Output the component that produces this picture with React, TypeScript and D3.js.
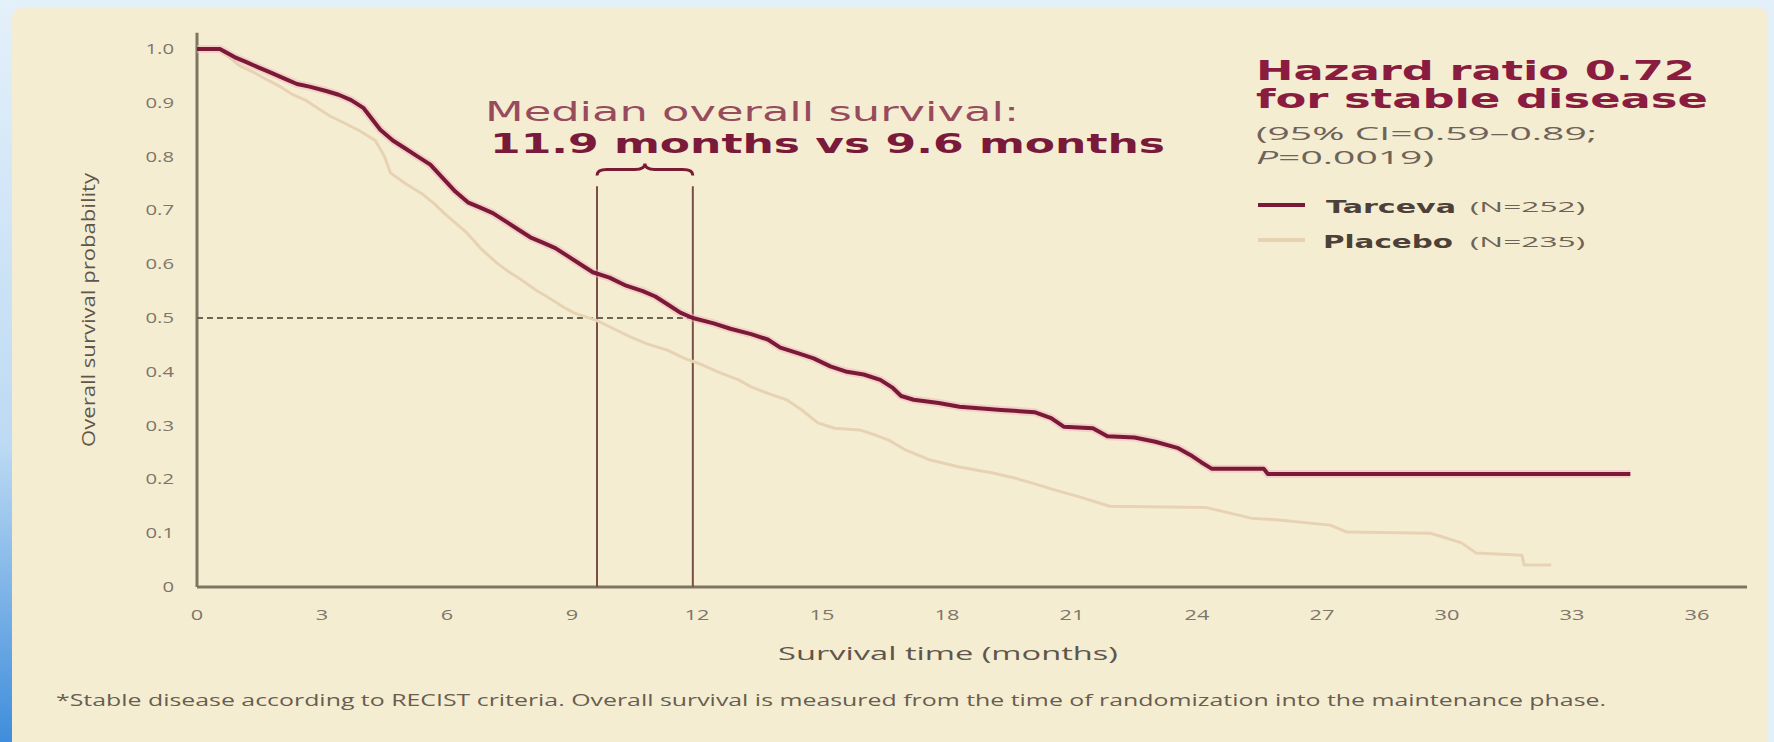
import React from "react";
import * as d3 from "d3";

// ---- data ----
const tarcevaTime = [0, 0.55, 0.9, 1.2, 1.5, 1.8, 2.1, 2.4, 2.7, 3.1, 3.4, 3.7, 4.0, 4.2, 4.4, 4.7, 5.0, 5.3, 5.6, 5.9, 6.2, 6.5, 6.8, 7.1, 7.4, 7.7, 8.0, 8.3, 8.6, 8.9, 9.2, 9.5, 9.9, 10.3, 10.7, 11.0, 11.3, 11.6, 11.9, 12.4, 12.8, 13.3, 13.7, 14.0, 14.4, 14.8, 15.2, 15.6, 16.0, 16.4, 16.7, 16.9, 17.2, 17.8, 18.3, 19.3, 20.1, 20.5, 20.8, 21.5, 21.85, 22.5, 23.0, 23.55, 23.85, 24.1, 24.35, 25.6, 25.7, 34.4];
const tarcevaSurv = [1.0, 1.0, 0.985, 0.975, 0.965, 0.955, 0.945, 0.935, 0.93, 0.922, 0.915, 0.905, 0.89, 0.87, 0.85, 0.83, 0.815, 0.8, 0.785, 0.76, 0.735, 0.715, 0.705, 0.695, 0.68, 0.665, 0.65, 0.64, 0.63, 0.615, 0.6, 0.585, 0.575, 0.56, 0.55, 0.54, 0.525, 0.51, 0.5, 0.49, 0.48, 0.47, 0.46, 0.445, 0.435, 0.425, 0.41, 0.4, 0.395, 0.385, 0.37, 0.355, 0.348, 0.342, 0.335, 0.329, 0.325, 0.314, 0.298, 0.295, 0.28, 0.278, 0.27, 0.258, 0.245, 0.232, 0.22, 0.22, 0.21, 0.21];

const placeboTime = [0, 0.55, 1.0, 1.4, 1.7, 2.0, 2.3, 2.6, 2.9, 3.2, 3.55, 3.9, 4.28, 4.5, 4.64, 5.0, 5.38, 5.7, 5.93, 6.2, 6.48, 6.8, 7.2, 7.5, 7.8, 8.13, 8.5, 8.8, 9.06, 9.6, 10.0, 10.4, 10.8, 11.3, 11.7, 12.06, 12.5, 13.0, 13.3, 13.7, 14.15, 14.5, 14.9, 15.3, 15.9, 16.3, 16.6, 17.0, 17.6, 18.3, 19.1, 19.6, 20.05, 20.6, 21.2, 21.9, 24.2, 25.3, 25.9, 27.2, 27.6, 29.6, 29.9, 30.35, 30.7, 31.8, 31.85, 32.5];
const placeboSurv = [1.0, 1.0, 0.97, 0.955, 0.942, 0.93, 0.915, 0.905, 0.89, 0.875, 0.862, 0.848, 0.83, 0.8, 0.77, 0.75, 0.732, 0.712, 0.695, 0.677, 0.658, 0.63, 0.602, 0.585, 0.57, 0.552, 0.535, 0.52, 0.509, 0.495, 0.48, 0.465, 0.452, 0.44, 0.425, 0.415, 0.4, 0.385, 0.372, 0.36, 0.348, 0.33, 0.305, 0.295, 0.292, 0.282, 0.273, 0.255, 0.236, 0.223, 0.212, 0.203, 0.193, 0.18, 0.167, 0.15, 0.148, 0.128, 0.125, 0.115, 0.102, 0.1, 0.093, 0.082, 0.063, 0.059, 0.041, 0.041];

const xTicks = [0, 3, 6, 9, 12, 15, 18, 21, 24, 27, 30, 33, 36];
const yTicks = [0, 0.1, 0.2, 0.3, 0.4, 0.5, 0.6, 0.7, 0.8, 0.9, 1.0];
const yTickLabels = ["0", "0.1", "0.2", "0.3", "0.4", "0.5", "0.6", "0.7", "0.8", "0.9", "1.0"];
const medianPlacebo = 9.6;
const medianTarceva = 11.9;

const W = 1774;
const H = 742;

const COL_TARCEVA = "#7a1a36";
const COL_PLACEBO = "#e7d3b3";
const COL_AXIS = "#7e7562";
const COL_TICK = "#7d766a";

export default function App() {
  const x = d3.scaleLinear().domain([0, 36]).range([197, 1697]);
  const y = d3.scaleLinear().domain([0, 1]).range([587, 49]);

  const line = d3
    .line<[number, number]>()
    .x((d) => x(d[0]))
    .y((d) => y(d[1]))
    .curve(d3.curveLinear);

  const tarceva = tarcevaTime.map((t, i) => [t, tarcevaSurv[i]] as [number, number]);
  const placebo = placeboTime.map((t, i) => [t, placeboSurv[i]] as [number, number]);

  const x1 = x(medianPlacebo);
  const x2 = x(medianTarceva);
  const lineTop = y(0.745);
  const bEnd = y(0.765);
  const bBody = y(0.776);
  const bPeak = y(0.787);
  const xm = (x1 + x2) / 2;
  const brace = `M${x1},${bEnd} Q${x1},${bBody} ${x1 + 10},${bBody} L${xm - 10},${bBody} Q${xm},${bBody} ${xm},${bPeak} Q${xm},${bBody} ${xm + 10},${bBody} L${x2 - 10},${bBody} Q${x2},${bBody} ${x2},${bEnd}`;

  return (
    <svg
      width={W}
      height={H}
      viewBox={`0 0 ${W} ${H}`}
      style={{ position: "absolute", left: 0, top: 0, display: "block" }}
    >
      <defs>
        <linearGradient id="leftEdge" x1="0" y1="0" x2="0" y2="1">
          <stop offset="0" stopColor="#e4f0fa" />
          <stop offset="0.6" stopColor="#bcdaf3" />
          <stop offset="1" stopColor="#3f8ddc" />
        </linearGradient>
      </defs>
      <rect x={0} y={0} width={W} height={H} fill="#e3eff9" />
      <rect x={0} y={0} width={14} height={H} fill="url(#leftEdge)" />
      <rect x={12} y={7} width={1756} height={H + 20} rx={12} fill="#f5edd2" />

      {/* axes */}
      <line x1={x(0)} x2={x(37.2)} y1={y(0)} y2={y(0)} stroke={COL_AXIS} strokeWidth={3} />
      <line x1={x(0)} x2={x(0)} y1={y(0)} y2={y(1.03)} stroke={COL_AXIS} strokeWidth={3} />

      {/* y tick labels */}
      {yTicks.map((t, i) => (
        <g key={"y" + i} transform={`translate(174,${y(t) + 5}) scale(1.45,1)`}>
          <text textAnchor="end" fontFamily="Open Sans" fontSize={14} fill={COL_TICK}>
            {yTickLabels[i]}
          </text>
        </g>
      ))}

      {/* x tick labels */}
      {xTicks.map((t) => (
        <g key={"x" + t} transform={`translate(${x(t)},${620}) scale(1.45,1)`}>
          <text textAnchor="middle" fontFamily="Open Sans" fontSize={15} fill={COL_TICK}>
            {String(t)}
          </text>
        </g>
      ))}

      {/* axis titles */}
      <text
        x={948}
        y={660}
        textAnchor="middle"
        fontFamily="Open Sans"
        fontSize={19}
        fill="#5f564b"
        textLength={340}
        lengthAdjust="spacingAndGlyphs"
      >
        Survival time (months)
      </text>
      <text
        transform={`translate(95,${310}) rotate(-90)`}
        textAnchor="middle"
        fontFamily="Open Sans"
        fontSize={19}
        fill="#5f564b"
        textLength={274}
        lengthAdjust="spacingAndGlyphs"
      >
        Overall survival probability
      </text>

      {/* median markers */}
      <line x1={x(0)} x2={x2} y1={y(0.5)} y2={y(0.5)} stroke="#6c6552" strokeWidth={2} strokeDasharray="6,4" />
      <line x1={x1} x2={x1} y1={y(0)} y2={lineTop} stroke="#7b4e4a" strokeWidth={2} />
      <line x1={x2} x2={x2} y1={y(0)} y2={lineTop} stroke="#7b4e4a" strokeWidth={2} />
      <path d={brace} fill="none" stroke={COL_TARCEVA} strokeWidth={3} />

      {/* curves */}
      <path d={line(placebo) || ""} fill="none" stroke={COL_PLACEBO} strokeWidth={3} strokeLinejoin="round" />
      <path d={line(tarceva) || ""} fill="none" stroke="#f2b6c0" strokeWidth={8} strokeOpacity={0.5} strokeLinejoin="round" />
      <path d={line(tarceva) || ""} fill="none" stroke={COL_TARCEVA} strokeWidth={4} strokeLinejoin="round" />

      {/* median annotation */}
      <text
        x={485}
        y={121}
        fontFamily="DejaVu Sans"
        fontSize={26}
        fill="#974b5d"
        textLength={534}
        lengthAdjust="spacingAndGlyphs"
      >
        Median overall survival:
      </text>
      <text
        x={490}
        y={153}
        fontFamily="DejaVu Sans"
        fontWeight="bold"
        fontSize={27}
        fill="#7a1a3a"
        textLength={675}
        lengthAdjust="spacingAndGlyphs"
      >
        11.9 months vs 9.6 months
      </text>

      {/* hazard ratio block */}
      <text
        x={1256}
        y={80}
        fontFamily="DejaVu Sans"
        fontWeight="bold"
        fontSize={27}
        fill="#8a1c40"
        textLength={439}
        lengthAdjust="spacingAndGlyphs"
      >
        Hazard ratio 0.72
      </text>
      <text
        x={1256}
        y={108}
        fontFamily="DejaVu Sans"
        fontWeight="bold"
        fontSize={27}
        fill="#8a1c40"
        textLength={452}
        lengthAdjust="spacingAndGlyphs"
      >
        for stable disease
      </text>
      <text
        x={1256}
        y={140}
        fontFamily="Open Sans"
        fontSize={18}
        fill="#6f6357"
        textLength={341}
        lengthAdjust="spacingAndGlyphs"
      >
        (95% CI=0.59–0.89;
      </text>
      <text
        x={1256}
        y={164}
        fontFamily="Open Sans"
        fontSize={18}
        fill="#6f6357"
        textLength={178}
        lengthAdjust="spacingAndGlyphs"
      >
        <tspan fontStyle="italic">P</tspan>=0.0019)
      </text>

      {/* legend */}
      <line x1={1258} x2={1305} y1={205} y2={205} stroke={COL_TARCEVA} strokeWidth={4} />
      <line x1={1258} x2={1305} y1={240} y2={240} stroke={COL_PLACEBO} strokeWidth={4} />
      <text
        x={1326}
        y={213}
        fontFamily="DejaVu Sans"
        fontWeight="bold"
        fontSize={18}
        fill="#4b4139"
        textLength={130}
        lengthAdjust="spacingAndGlyphs"
      >
        Tarceva
      </text>
      <text
        x={1470}
        y={212}
        fontFamily="Open Sans"
        fontSize={15}
        fill="#6d6256"
        textLength={115}
        lengthAdjust="spacingAndGlyphs"
      >
        (N=252)
      </text>
      <text
        x={1323}
        y={248}
        fontFamily="DejaVu Sans"
        fontWeight="bold"
        fontSize={18}
        fill="#4b4139"
        textLength={130}
        lengthAdjust="spacingAndGlyphs"
      >
        Placebo
      </text>
      <text
        x={1470}
        y={247}
        fontFamily="Open Sans"
        fontSize={15}
        fill="#6d6256"
        textLength={115}
        lengthAdjust="spacingAndGlyphs"
      >
        (N=235)
      </text>

      {/* footnote */}
      <text
        x={56}
        y={706}
        fontFamily="Open Sans"
        fontSize={17}
        fill="#685d51"
        textLength={1550}
        lengthAdjust="spacingAndGlyphs"
      >
        *Stable disease according to RECIST criteria. Overall survival is measured from the time of randomization into the maintenance phase.
      </text>
    </svg>
  );
}
